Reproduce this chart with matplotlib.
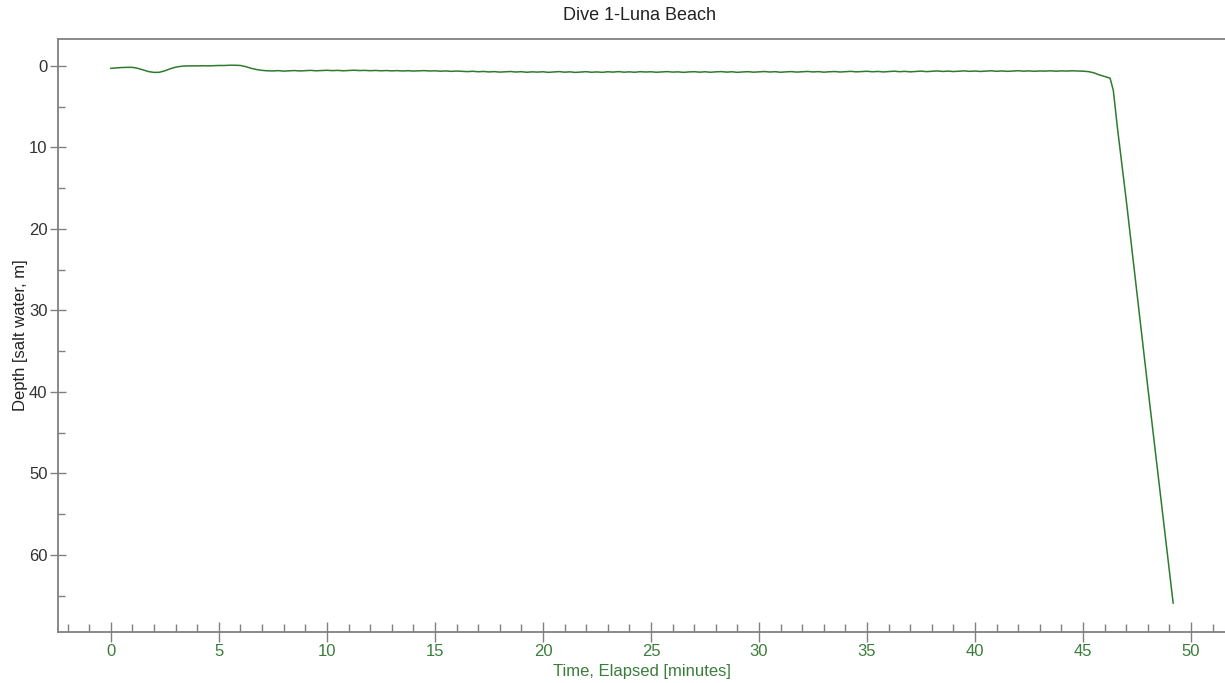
import matplotlib.pyplot as plt
import numpy as np
from matplotlib.ticker import MultipleLocator

plt.rcParams['font.family'] = ['Liberation Sans', 'DejaVu Sans']

# depth log, one reading every 15 s up to 46 min
step = 0.25
depth = [
    0.30, 0.25, 0.20, 0.18, 0.18, 0.30, 0.50, 0.70, 0.80, 0.78, 0.60, 0.35, 0.15, 0.05, 0.00, 0.00,
    0.00, -0.02, 0.00, -0.03, -0.05, -0.05, -0.08, -0.08, -0.05, 0.10, 0.30, 0.45, 0.55,
    # 7.25 - 15.0
    0.60, 0.62, 0.58, 0.64, 0.60, 0.57, 0.62, 0.59, 0.55, 0.60, 0.57, 0.54, 0.58, 0.55, 0.60, 0.56,
    0.53, 0.57, 0.55, 0.59, 0.56, 0.60, 0.57, 0.61, 0.58, 0.62, 0.59, 0.63, 0.60, 0.58, 0.62,
    # 15.25 - 25.0
    0.60, 0.65, 0.62, 0.67, 0.63, 0.66, 0.70, 0.66, 0.72, 0.68, 0.74, 0.70, 0.76, 0.72, 0.69, 0.75,
    0.71, 0.78, 0.73, 0.76, 0.72, 0.79, 0.74, 0.70, 0.77, 0.73, 0.80, 0.75, 0.71, 0.78, 0.74, 0.79,
    0.72, 0.76, 0.70, 0.77, 0.73, 0.78, 0.71, 0.75,
    # 25.25 - 35.0
    0.72, 0.78, 0.74, 0.70, 0.76, 0.73, 0.79, 0.74, 0.71, 0.77, 0.72, 0.78, 0.73, 0.70, 0.76, 0.72,
    0.79, 0.74, 0.71, 0.77, 0.73, 0.69, 0.75, 0.71, 0.78, 0.73, 0.70, 0.76, 0.72, 0.68, 0.74, 0.70,
    0.77, 0.72, 0.69, 0.75, 0.71, 0.67, 0.73, 0.70,
    # 35.25 - 45.0
    0.66, 0.72, 0.68, 0.74, 0.69, 0.65, 0.71, 0.67, 0.73, 0.68, 0.64, 0.70, 0.66, 0.62, 0.68, 0.64,
    0.69, 0.65, 0.61, 0.67, 0.63, 0.68, 0.64, 0.60, 0.66, 0.62, 0.67, 0.63, 0.59, 0.65, 0.61, 0.66,
    0.62, 0.64, 0.60, 0.65, 0.61, 0.63, 0.60, 0.62,
    # 45.25 - 46.0
    0.65, 0.70, 0.85, 1.10,
]
# final plunge, irregular sampling
tail_time = [46.25, 46.4, 46.6, 47.0, 47.5, 48.0, 48.5, 49.0, 49.17]
tail_depth = [1.5, 3.0, 7.8, 16.5, 28.0, 39.5, 50.8, 62.2, 65.9]

t = list(np.arange(len(depth)) * step) + tail_time
d = depth + tail_depth

green = '#3a7d3a'
grey = '#808080'

fig = plt.figure(figsize=(12.25, 6.83), dpi=100)
ax = fig.add_axes([0.0473, 0.0747, 0.9527, 0.8682])
ax.plot(t, d, color='#2e7a2e', lw=1.1)

ax.set_xlim(-2.45, 51.57)
ax.set_ylim(69.45, -3.3)

ax.xaxis.set_major_locator(MultipleLocator(5))
ax.xaxis.set_minor_locator(MultipleLocator(1))
ax.yaxis.set_major_locator(MultipleLocator(10))
ax.yaxis.set_minor_locator(MultipleLocator(5))

ax.tick_params(axis='x', which='major', direction='inout', length=14, width=1, color=grey,
               labelcolor=green, labelsize=12, pad=2)
ax.tick_params(axis='x', which='minor', direction='in', length=6, width=1, color=grey)
ax.tick_params(axis='y', which='major', direction='inout', length=11, width=1, color=grey,
               labelcolor='#333333', labelsize=12, pad=2)
ax.tick_params(axis='y', which='minor', direction='in', length=5, width=1, color=grey)

for s in ['left', 'bottom', 'top']:
    ax.spines[s].set_color(grey)
    ax.spines[s].set_linewidth(1.3)
ax.spines['right'].set_visible(False)

ax.set_xlabel('Time, Elapsed [minutes]', color=green, fontsize=12, labelpad=3)
ax.set_ylabel('Depth [salt water, m]', color='#222222', fontsize=12, labelpad=1)
fig.text(0.522, 0.978, 'Dive 1-Luna Beach', ha='center', va='center', fontsize=13, color='#222222')

fig.savefig('out.png', dpi=100)
